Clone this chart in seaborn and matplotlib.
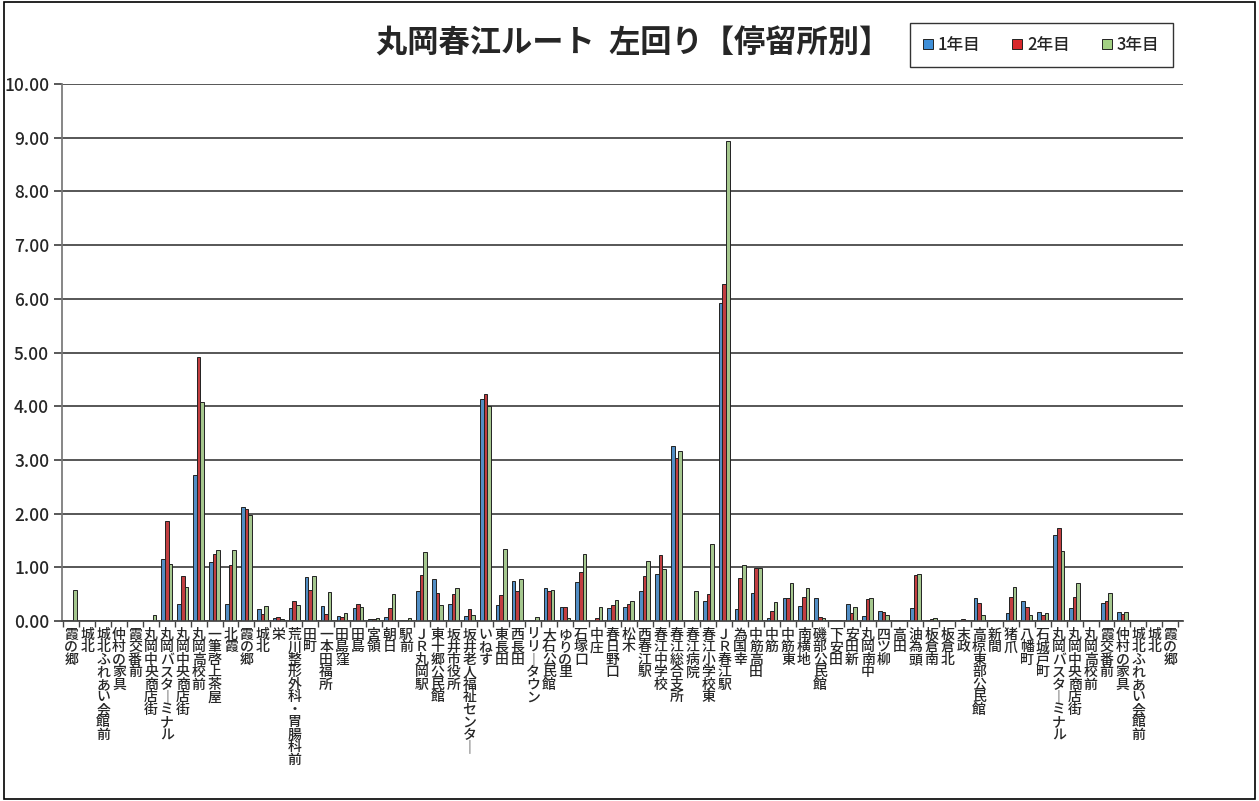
import numpy as np
import pandas as pd
import seaborn as sns
import matplotlib.pyplot as plt
from matplotlib.patches import Rectangle, Patch

stops = ["霞の郷", "城北", "城北ふれあい会館前", "仲村の家具", "霞交番前", "丸岡中央商店街",
         "丸岡バスターミナル", "丸岡中央商店街", "丸岡高校前", "一筆啓上茶屋", "北霞", "霞の郷",
         "城北", "栄", "荒川整形外科・胃腸科前", "田町", "一本田福所", "田島窪", "田島", "宮領",
         "朝日", "駅前", "ＪＲ丸岡駅", "東十郷公民館", "坂井市役所", "坂井老人福祉センター",
         "いねす", "東長田", "西長田", "リリータウン", "大石公民館", "ゆりの里", "石塚口", "中庄",
         "春日野口", "松木", "西春江駅", "春江中学校", "春江総合支所", "春江病院", "春江小学校東",
         "ＪＲ春江駅", "為国幸", "中筋高田", "中筋", "中筋東", "南横地", "磯部公民館", "下安田",
         "安田新", "丸岡南中", "四ツ柳", "高田", "油為頭", "板倉南", "板倉北", "末政",
         "高椋東部公民館", "新間", "猪爪", "八幡町", "石城戸町", "丸岡バスターミナル",
         "丸岡中央商店街", "丸岡高校前", "霞交番前", "仲村の家具", "城北ふれあい会館前", "城北", "霞の郷"]

year1 = [0, 0, 0, 0, 0, 0, 1.15, 0.31, 2.72, 1.10, 0.31, 2.13, 0.22, 0.05, 0.24, 0.82, 0.28, 0.10,
         0.24, 0.03, 0.08, 0.02, 0.55, 0.79, 0.32, 0.10, 4.13, 0.30, 0.74, 0.02, 0.62, 0.26, 0.73,
         0.00, 0.25, 0.26, 0.56, 0.87, 3.26, 0, 0.38, 5.93, 0.22, 0.53, 0.05, 0.43, 0.28, 0.42,
         0.02, 0.31, 0.10, 0.19, 0, 0.24, 0.02, 0.02, 0.02, 0.42, 0.02, 0.15, 0.37, 0.16, 1.60,
         0.24, 0, 0.33, 0.17, 0, 0, 0]
year2 = [0, 0, 0, 0, 0, 0, 1.87, 0.84, 4.92, 1.24, 1.05, 2.08, 0.13, 0.08, 0.37, 0.58, 0.13, 0.08,
         0.31, 0.04, 0.25, 0.02, 0.86, 0.53, 0.50, 0.22, 4.22, 0.48, 0.56, 0.02, 0.56, 0.26, 0.91,
         0.05, 0.29, 0.31, 0.84, 1.23, 3.04, 0, 0.50, 6.28, 0.81, 0.98, 0.19, 0.42, 0.45, 0.07,
         0.02, 0.14, 0.41, 0.17, 0, 0.86, 0.03, 0.02, 0.03, 0.33, 0.02, 0.44, 0.26, 0.12, 1.74,
         0.45, 0, 0.37, 0.13, 0, 0, 0]
year3 = [0.57, 0, 0, 0, 0, 0.12, 1.06, 0.64, 4.08, 1.33, 1.33, 1.97, 0.28, 0.03, 0.29, 0.84, 0.54,
         0.15, 0.26, 0.05, 0.51, 0.06, 1.29, 0.30, 0.62, 0.12, 4.00, 1.34, 0.78, 0.08, 0.57, 0.06,
         1.25, 0.26, 0.40, 0.37, 1.11, 0.96, 3.17, 0.56, 1.43, 8.94, 1.04, 0.99, 0.35, 0.70, 0.61,
         0.05, 0.01, 0.27, 0.42, 0.12, 0, 0.87, 0.05, 0.01, 0.02, 0.11, 0.02, 0.63, 0.12, 0.14,
         1.31, 0.70, 0, 0.53, 0.16, 0, 0, 0]

years = ["1年目", "2年目", "3年目"]
colors = ["#3f8fd8", "#d8282c", "#a3d184"]

n = len(stops)
df = pd.DataFrame({
    "pos": np.tile(np.arange(n), 3),
    "year": np.repeat(years, n),
    "value": year1 + year2 + year3,
})

sns.set_theme(style="white")
plt.rcParams["font.family"] = ["Noto Sans CJK JP", "DejaVu Sans"]

fig = plt.figure(figsize=(12.59, 8.01), dpi=100)
ax = fig.add_axes([0.049, 0.2247, 0.8906, 0.6704])

sns.barplot(data=df, x="pos", y="value", hue="year", hue_order=years, palette=colors,
            width=0.68, edgecolor="#222222", linewidth=0.7, legend=False, ax=ax)

ax.set_ylim(0, 10)
ax.set_xlim(-0.6, n - 0.2)
ax.set_yticks(np.arange(0, 11, 1))
ax.set_yticklabels([f"{v:.2f}" for v in np.arange(0, 11, 1)], fontsize=12.5, fontweight="medium")
ax.yaxis.grid(True, color="#3a3a3a", linewidth=1.2)
ax.set_axisbelow(True)

# vertical (tategaki) labels
def tate(s):
    return "\n".join(s.replace("ー", "｜"))

ax.set_xticks(np.arange(n))
ax.set_xticklabels([tate(s) for s in stops], fontsize=10, fontweight="medium", va="top", ha="center")
for lab in ax.get_xticklabels():
    lab.set_linespacing(0.86)
ax.set_xticks(np.arange(-0.5, n, 1), minor=True)
ax.tick_params(axis="x", which="major", length=0, pad=5)
ax.tick_params(axis="x", which="minor", length=4, color="#444444", bottom=True)
ax.tick_params(axis="y", which="major", length=6, color="#444444", left=True, pad=3)

ax.set_xlabel("")
ax.set_ylabel("")
for side in ["top", "right"]:
    ax.spines[side].set_visible(False)
ax.spines["left"].set_color("#777777")
ax.spines["bottom"].set_color("#444444")

fig.text(0.503, 0.946, "丸岡春江ルート  左回り【停留所別】", fontsize=22.5, fontweight="bold",
         ha="center", va="center")

handles = [Patch(facecolor=c, edgecolor="#222222", linewidth=0.7) for c in colors]
leg = fig.legend(handles, years, ncol=3, loc="center", bbox_to_anchor=(0.827, 0.944),
                 fontsize=12, frameon=True, fancybox=False, handlelength=0.6, handleheight=0.6,
                 handletextpad=0.3, columnspacing=1.9, borderpad=0.8, borderaxespad=0)
leg.get_frame().set_edgecolor("black")
leg.get_frame().set_linewidth(1.0)
for t in leg.get_texts():
    t.set_fontweight("medium")

fig.patches.append(Rectangle((0.003, 0.003), 0.994, 0.994, transform=fig.transFigure,
                             fill=False, edgecolor="black", linewidth=1.2))

fig.savefig("out.png", dpi=100)
